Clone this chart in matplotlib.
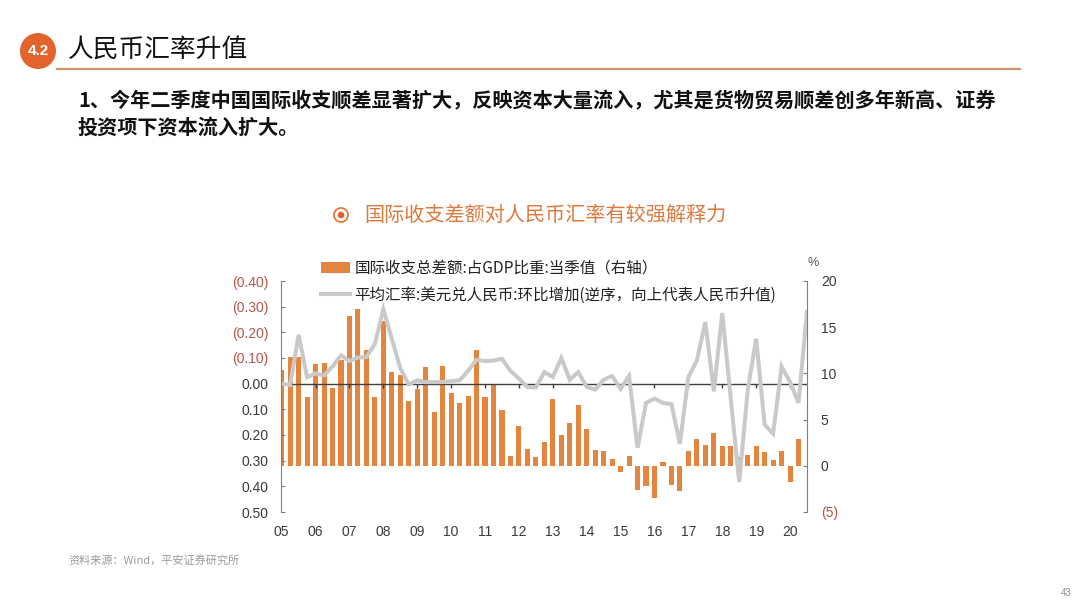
import matplotlib
matplotlib.use("Agg")
import matplotlib.pyplot as plt
from matplotlib.patches import Ellipse, Patch
from matplotlib.lines import Line2D
import numpy as np

plt.rcParams['font.family'] = ['Liberation Sans', 'Noto Sans CJK SC', 'DejaVu Sans']

# ---------------- data ----------------
# 国际收支总差额:占GDP比重:当季值 (%), 2005Q1 - 2020Q2 (right axis)
bop_share = [10.4, 11.75, 11.8, 7.5, 11.0, 11.1, 8.4, 11.5,
             16.2, 17.0, 12.5, 7.4, 15.7, 10.1, 9.8, 7.0,
             8.3, 10.7, 5.8, 10.8, 7.9, 6.8, 7.6, 12.5,
             7.4, 8.9, 6.0, 1.1, 4.3, 1.8, 1.0, 2.6,
             7.2, 3.35, 4.6, 6.6, 4.0, 1.7, 1.6, 0.75,
             -0.7, 1.1, -2.6, -2.2, -3.5, 0.45, -2.1, -2.7,
             1.6, 2.9, 2.3, 3.6, 2.15, 2.15, 1.0, 1.15,
             2.1, 1.45, 0.65, 1.6, -1.7, 2.9]
# 平均汇率:美元兑人民币:环比增加 (left axis, reversed), 2005Q1 - 2020Q3
fx_change = [0.00, 0.005, -0.19, -0.025, -0.04, -0.032, -0.067, -0.11,
             -0.088, -0.102, -0.104, -0.155, -0.29, -0.175, -0.06, 0.003,
             -0.013, -0.006, -0.006, -0.006, -0.01, -0.013, -0.05, -0.093,
             -0.088, -0.09, -0.097, -0.05, -0.02, 0.013, 0.015, -0.045,
             -0.026, -0.10, -0.015, -0.045, 0.013, 0.023, -0.015, -0.03,
             0.02, -0.03, 0.25, 0.075, 0.058, 0.075, 0.08, 0.234,
             -0.026, -0.09, -0.24, 0.03, -0.275, 0.058, 0.383, 0.026,
             -0.175, 0.16, 0.195, -0.067, -0.006, 0.075, -0.28]
start_year = 2005
years = list(range(2005, 2021))
year_labels = ['05', '06', '07', '08', '09', '10', '11', '12',
               '13', '14', '15', '16', '17', '18', '19', '20']
left_ticks = [-0.4, -0.3, -0.2, -0.1, 0.0, 0.1, 0.2, 0.3, 0.4, 0.5]
right_ticks = [-5, 0, 5, 10, 15, 20]

bar_label = '国际收支总差额:占GDP比重:当季值（右轴）'
line_label = '平均汇率:美元兑人民币:环比增加(逆序，向上代表人民币升值)'

x_bar = start_year + np.arange(len(bop_share)) / 4.0
x_line = start_year + np.arange(len(fx_change)) / 4.0

# ---------------- figure ----------------
W, H = 1080, 608
fig = plt.figure(figsize=(W / 100, H / 100), dpi=100)
fig.patch.set_facecolor('white')

def fx(x):
    return x / W

def fy(y):
    return 1 - y / H

ORANGE = '#E3843F'
GRAY_LINE = '#C9C9C9'
NEG = '#B4554B'
TXT = '#3A3A3A'

# header
fig.add_artist(Ellipse((fx(38), fy(51)), 2 * 18 / W, 2 * 18 / H,
                       transform=fig.transFigure, facecolor='#E2642C',
                       edgecolor='none'))
fig.text(fx(38), fy(51), '4.2', color='white', fontsize=11, fontweight='bold',
         ha='center', va='center', family=['Liberation Sans'])
fig.text(fx(68), fy(51), '人民币汇率升值', fontsize=18.5, color='#111111',
         ha='left', va='center', family=['Noto Sans CJK SC'])
fig.add_artist(Line2D([fx(57), fx(1020)], [fy(69), fy(69)],
                      transform=fig.transFigure, color='#D49468', lw=1.6))

fig.text(fx(78), fy(101),
         '1、今年二季度中国国际收支顺差显著扩大，反映资本大量流入，尤其是货物贸易顺差创多年新高、证券',
         fontsize=14.5, fontweight='bold', color='#111111', ha='left', va='center',
         family=['Noto Sans CJK SC', 'DejaVu Sans'])
fig.text(fx(78), fy(127), '投资项下资本流入扩大。',
         fontsize=14.5, fontweight='bold', color='#111111', ha='left', va='center',
         family=['Noto Sans CJK SC', 'DejaVu Sans'])

# chart title
fig.add_artist(Ellipse((fx(341), fy(215)), 2 * 7 / W, 2 * 7 / H,
                       transform=fig.transFigure, facecolor='none',
                       edgecolor='#E07A3C', lw=1.3))
fig.add_artist(Ellipse((fx(341), fy(215)), 2 * 3.3 / W, 2 * 3.3 / H,
                       transform=fig.transFigure, facecolor='#E0602C',
                       edgecolor='none'))
fig.text(fx(364), fy(215), '国际收支差额对人民币汇率有较强解释力',
         fontsize=14.5, color='#DC7A3E', ha='left', va='center',
         family=['Noto Sans CJK SC'])

# axes
ax = fig.add_axes([fx(281), fy(512), fx(807) - fx(281), (512 - 281) / H])
ax2 = ax.twinx()
ax.set_zorder(ax2.get_zorder() + 1)
ax.patch.set_visible(False)

ax2.bar(x_bar, bop_share, width=0.15, color=ORANGE, edgecolor='none',
        label=bar_label)
ax.plot(x_line, fx_change, color=GRAY_LINE, lw=2.9, solid_joinstyle='miter',
        label=line_label)

ax.set_xlim(2004.98, 2020.5)
ax.set_ylim(0.5, -0.4)
ax2.set_ylim(-5, 20)

# zero line with year ticks
ax.axhline(0, color='#404040', lw=1.0, zorder=1)
ax.vlines(years[1:], 0, 0.018, color='#404040', lw=1.0, zorder=1)

for a in (ax, ax2):
    a.spines['top'].set_visible(False)
    a.spines['bottom'].set_visible(False)
    a.spines['left'].set_color('#808080')
    a.spines['right'].set_color('#808080')

ax.spines['right'].set_visible(False)
ax2.spines['left'].set_visible(False)

ax.set_xticks(years)
ax.set_xticklabels(year_labels)
ax.tick_params(axis='x', length=0, pad=9, labelsize=10, labelcolor=TXT)

ax.set_yticks(left_ticks)
ax.set_yticklabels(['(%.2f)' % abs(v) if v < 0 else '%.2f' % v for v in left_ticks])
ax.tick_params(axis='y', direction='in', length=3, color='#808080', pad=9,
               labelsize=10)
for lbl, v in zip(ax.get_yticklabels(), left_ticks):
    lbl.set_color(NEG if v < 0 else TXT)

ax2.set_yticks(right_ticks)
ax2.set_yticklabels(['(%d)' % abs(v) if v < 0 else '%d' % v for v in right_ticks])
ax2.tick_params(axis='y', direction='in', length=3, color='#808080', pad=10,
                labelsize=10)
for lbl, v in zip(ax2.get_yticklabels(), right_ticks):
    lbl.set_color(NEG if v < 0 else TXT)

fig.text(fx(813), fy(263), '%', fontsize=9, color='#555555', ha='center', va='center')

# legend
handles = [Patch(facecolor=ORANGE, edgecolor='none'),
           Line2D([], [], color=GRAY_LINE, lw=2.9)]
leg = fig.legend(handles, [bar_label, line_label], loc='upper left',
                 bbox_to_anchor=(fx(321), fy(260)), frameon=False,
                 fontsize=11.2, handlelength=1.85, handleheight=0.75,
                 handletextpad=0.3, labelspacing=0.62, borderpad=0,
                 borderaxespad=0)
for t in leg.get_texts():
    t.set_color('#222222')
    t.set_family(['Noto Sans CJK SC', 'DejaVu Sans'])

# source & page number
fig.text(fx(68), fy(560), '资料来源：Wind，平安证券研究所', fontsize=8,
         color='#9A9A9A', ha='left', va='center',
         family=['Noto Sans CJK SC', 'DejaVu Sans'])
fig.text(fx(1066), fy(593), '43', fontsize=7, color='#8A8A8A',
         ha='center', va='center')

fig.savefig('out.png', dpi=100)
